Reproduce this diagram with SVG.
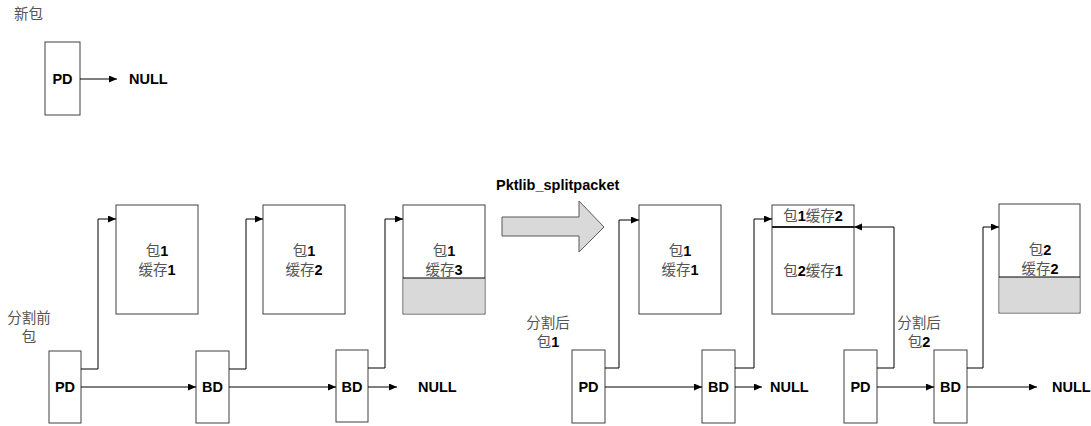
<svg xmlns="http://www.w3.org/2000/svg" width="1091" height="426" viewBox="0 0 1091 426">
<style>
.box{fill:#fff;stroke:#404040;stroke-width:1}
.gray{fill:#d9d9d9;stroke:none}
.ln{fill:none;stroke:#000;stroke-width:1}
.b{font-family:"Liberation Sans",Arial,sans-serif;font-weight:bold;font-size:14.5px;fill:#000}
.c{font-family:"Liberation Sans","Noto Sans CJK SC",sans-serif;font-size:14.5px;fill:#555}
.c tspan{font-weight:bold;fill:#000}
</style>
<defs>
<marker id="ah" markerUnits="userSpaceOnUse" markerWidth="9" markerHeight="8" refX="8" refY="3.5" orient="auto">
<path d="M0,0 L8,3.5 L0,7 z" fill="#000"/>
</marker>
</defs>
<text class="c" x="14" y="19">新包</text>
<g id="pd0"><rect class="box" x="45" y="42" width="35" height="73"/><text class="b" x="62.5" y="84" text-anchor="middle">PD</text></g>
<text class="b" x="129" y="84">NULL</text>
<text class="b" x="496" y="190">Pktlib_splitpacket</text>
<g id="bigarrow"><path d="M502,217 L579,217 L579,201 L604,227 L579,252 L579,236 L502,236 z" fill="#d9d9d9" stroke="#595959" stroke-width="1"/></g>
<g id="buf1"><rect class="box" x="116" y="205" width="82" height="109"/><text class="c" x="157" y="256" text-anchor="middle">包<tspan>1</tspan></text><text class="c" x="157" y="275" text-anchor="middle">缓存<tspan>1</tspan></text></g>
<g id="buf2"><rect class="box" x="263" y="205" width="82" height="109"/><text class="c" x="304" y="256" text-anchor="middle">包<tspan>1</tspan></text><text class="c" x="304" y="275" text-anchor="middle">缓存<tspan>2</tspan></text></g>
<g id="buf3"><rect class="box" x="403" y="205" width="82" height="109"/><rect class="gray" x="403.5" y="278" width="81" height="35.5"/><line class="ln" x1="403" y1="278" x2="485" y2="278" stroke="#404040"/><text class="c" x="444" y="256" text-anchor="middle">包<tspan>1</tspan></text><text class="c" x="444" y="275" text-anchor="middle">缓存<tspan>3</tspan></text></g>
<text class="c" x="29" y="323" text-anchor="middle">分割前</text>
<text class="c" x="29" y="342" text-anchor="middle">包</text>
<g id="pd1"><rect class="box" x="49" y="351" width="32" height="72"/><text class="b" x="65" y="392" text-anchor="middle">PD</text></g>
<g id="bd1"><rect class="box" x="196" y="351" width="33" height="72"/><text class="b" x="212.5" y="392" text-anchor="middle">BD</text></g>
<g id="bd2"><rect class="box" x="336" y="350" width="32" height="72"/><text class="b" x="352" y="392" text-anchor="middle">BD</text></g>
<text class="b" x="418" y="392">NULL</text>
<g id="buf4"><rect class="box" x="639" y="205" width="82" height="109"/><text class="c" x="680" y="256" text-anchor="middle">包<tspan>1</tspan></text><text class="c" x="680" y="275" text-anchor="middle">缓存<tspan>1</tspan></text></g>
<g id="buf5"><rect class="box" x="772" y="205" width="82" height="109"/><line x1="772" y1="227" x2="854" y2="227" stroke="#202020" stroke-width="2"/><text class="c" x="813" y="221" text-anchor="middle">包<tspan>1</tspan>缓存<tspan>2</tspan></text><text class="c" x="813" y="276" text-anchor="middle">包<tspan>2</tspan>缓存<tspan>1</tspan></text></g>
<g id="buf6"><rect class="box" x="999" y="204" width="81" height="109"/><rect class="gray" x="999.5" y="277" width="80" height="35.5"/><line class="ln" x1="999" y1="277" x2="1080" y2="277" stroke="#404040"/><text class="c" x="1040" y="255" text-anchor="middle">包<tspan>2</tspan></text><text class="c" x="1040" y="274" text-anchor="middle">缓存<tspan>2</tspan></text></g>
<text class="c" x="548" y="328" text-anchor="middle">分割后</text>
<text class="c" x="548" y="347" text-anchor="middle">包<tspan>1</tspan></text>
<text class="c" x="919" y="328" text-anchor="middle">分割后</text>
<text class="c" x="919" y="347" text-anchor="middle">包<tspan>2</tspan></text>
<g id="pd3"><rect class="box" x="572" y="350" width="33" height="73"/><text class="b" x="588.5" y="392" text-anchor="middle">PD</text></g>
<g id="bd3"><rect class="box" x="702" y="350" width="33" height="73"/><text class="b" x="718.5" y="392" text-anchor="middle">BD</text></g>
<text class="b" x="770" y="392">NULL</text>
<g id="pd4"><rect class="box" x="844" y="350" width="33" height="73"/><text class="b" x="860.5" y="392" text-anchor="middle">PD</text></g>
<g id="bd4"><rect class="box" x="934" y="350" width="33" height="73"/><text class="b" x="950.5" y="392" text-anchor="middle">BD</text></g>
<text class="b" x="1052" y="392">NULL</text>
<g id="connectors">
<path class="ln" d="M80,79 L117,79" marker-end="url(#ah)"/>
<path class="ln" d="M81,369 L98,369 L98,219 L116,219" marker-end="url(#ah)"/>
<path class="ln" d="M81,387 L196,387" marker-end="url(#ah)"/>
<path class="ln" d="M229,369 L246,369 L246,219 L263,219" marker-end="url(#ah)"/>
<path class="ln" d="M229,387 L336,387" marker-end="url(#ah)"/>
<path class="ln" d="M368,368 L385,368 L385,219 L403,219" marker-end="url(#ah)"/>
<path class="ln" d="M368,387 L397,387" marker-end="url(#ah)"/>
<path class="ln" d="M605,368 L619,368 L619,220 L639,220" marker-end="url(#ah)"/>
<path class="ln" d="M605,387 L702,387" marker-end="url(#ah)"/>
<path class="ln" d="M735,368 L754,368 L754,219 L772,219" marker-end="url(#ah)"/>
<path class="ln" d="M735,387 L762,387" marker-end="url(#ah)"/>
<path class="ln" d="M877,368 L894,368 L894,227 L854,227" marker-end="url(#ah)"/>
<path class="ln" d="M877,387 L934,387" marker-end="url(#ah)"/>
<path class="ln" d="M967,368 L983,368 L983,227 L999,227" marker-end="url(#ah)"/>
<path class="ln" d="M967,387 L1037,387" marker-end="url(#ah)"/>
</g>
</svg>
